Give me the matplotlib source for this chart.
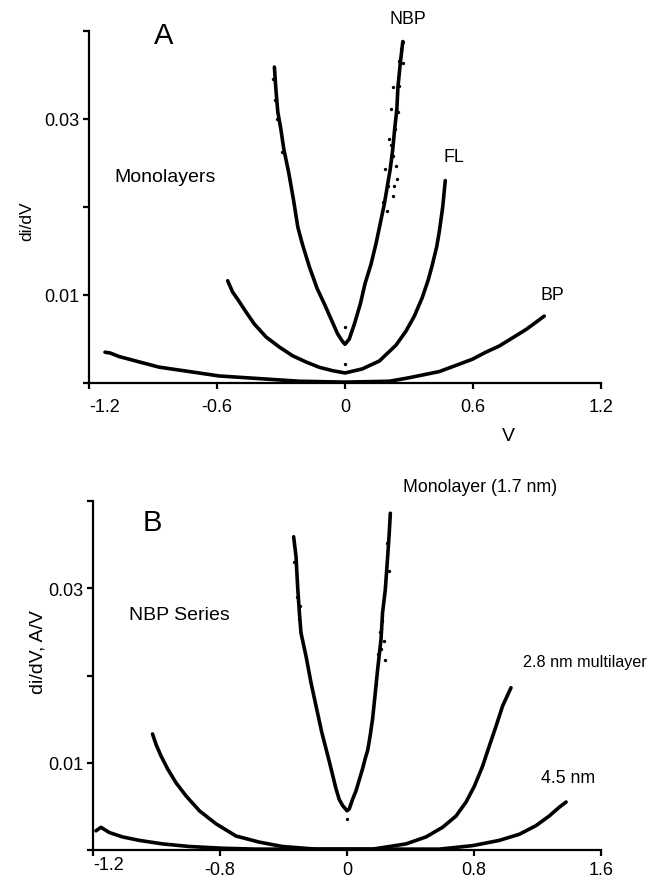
import matplotlib
matplotlib.use("Agg")
import matplotlib.pyplot as plt

plt.rcParams['font.family'] = ['Liberation Sans', 'DejaVu Sans']

# ---------------- Panel A data (V, di/dV) ----------------
nbp_v = [-0.331, -0.324, -0.315, -0.301, -0.287, -0.263, -0.242, -0.221, -0.200, -0.167,
         -0.130, -0.097, -0.066, -0.035, -0.011, 0.0,
         0.020, 0.044, 0.072, 0.094, 0.122, 0.145, 0.165, 0.184, 0.198, 0.212,
         0.224, 0.233, 0.243, 0.248, 0.259, 0.271]
nbp_y = [0.0359, 0.0334, 0.0308, 0.0289, 0.0266, 0.0238, 0.0209, 0.0177, 0.0158, 0.0132,
         0.0107, 0.0090, 0.0073, 0.0056, 0.0047, 0.0044,
         0.0050, 0.0067, 0.0090, 0.0113, 0.0135, 0.0158, 0.0181, 0.0203, 0.0223, 0.0243,
         0.0266, 0.0289, 0.0311, 0.0336, 0.0363, 0.0388]
# scattered points on the noisy parts of NBP
nbp_noise_v = [0.270, 0.263, 0.251, 0.273, 0.226, 0.255, 0.216, 0.247, 0.236, 0.208,
               0.223, 0.189, 0.239, 0.200, 0.231, 0.180, 0.223, 0.242, 0.195, 0.215,
               0.0, 0.0, -0.336, -0.328, -0.318, -0.296]
nbp_noise_y = [0.0387, 0.0380, 0.0366, 0.0364, 0.0336, 0.0338, 0.0311, 0.0308, 0.0289, 0.0277,
               0.0258, 0.0243, 0.0247, 0.0224, 0.0224, 0.0206, 0.0213, 0.0232, 0.0195, 0.0270,
               0.0064, 0.0022, 0.0345, 0.0322, 0.0300, 0.0262]

fl_v = [-0.550, -0.527, -0.504, -0.464, -0.425, -0.370, -0.308, -0.246, -0.183, -0.120, -0.058, 0.0,
        0.081, 0.161, 0.239, 0.286, 0.325, 0.362, 0.390, 0.409, 0.430, 0.442, 0.458, 0.470]
fl_y = [0.01162, 0.01034, 0.00955, 0.00807, 0.00670, 0.00523, 0.00409, 0.00310, 0.00239, 0.00178,
        0.00140, 0.00114, 0.0016, 0.0025, 0.0043, 0.0059, 0.0076, 0.0097, 0.0117, 0.0134,
        0.0155, 0.0172, 0.0200, 0.0230]

bp_v = [-1.125, -1.100, -1.058, -0.965, -0.871, -0.730, -0.590, -0.402, -0.214, 0.0,
        0.208, 0.301, 0.442, 0.520, 0.597, 0.660, 0.723, 0.790, 0.850, 0.934]
bp_y = [0.0035, 0.0034, 0.0030, 0.0024, 0.0018, 0.0013, 0.0008, 0.0005, 0.0002, 0.0001,
        0.0002, 0.0006, 0.0013, 0.0020, 0.0027, 0.0035, 0.0042, 0.0052, 0.0061, 0.0076]

# ---------------- Panel B data ----------------
mono_v = [-0.336, -0.321, -0.311, -0.300, -0.290, -0.258, -0.227, -0.195, -0.159, -0.111,
          -0.069, -0.049, -0.028, 0.0, 0.014, 0.035, 0.057, 0.080, 0.098, 0.115, 0.130,
          0.145, 0.161, 0.177, 0.193, 0.214, 0.224, 0.241, 0.256, 0.266, 0.273]
mono_y = [0.0359, 0.0336, 0.0302, 0.0272, 0.0249, 0.0222, 0.0192, 0.0165, 0.0135, 0.0101,
          0.0070, 0.0058, 0.0051, 0.0045, 0.0047, 0.0058, 0.0068, 0.0082, 0.0093, 0.0105, 0.0114,
          0.0130, 0.0150, 0.0178, 0.0207, 0.0241, 0.0272, 0.0298, 0.0336, 0.0363, 0.0386]
mono_noise_v = [-0.335, -0.318, -0.305, -0.296, 0.205, 0.232, 0.198, 0.240, 0.220, 0.262,
                0.250, 0.212, 0.185, 0.0]
mono_noise_y = [0.0330, 0.0290, 0.0265, 0.0280, 0.0250, 0.0240, 0.0225, 0.0218, 0.0262, 0.0320,
                0.0352, 0.0230, 0.0190, 0.0035]

ml28_v = [-1.225, -1.203, -1.172, -1.130, -1.077, -1.014, -0.930, -0.825, -0.699, -0.552,
          -0.406, -0.195, 0.0, 0.161, 0.372, 0.498, 0.602, 0.687, 0.750, 0.802, 0.854,
          0.896, 0.939, 0.980, 1.033]
ml28_y = [0.0133, 0.0121, 0.0108, 0.0093, 0.0077, 0.0062, 0.0045, 0.0030, 0.0016, 0.0009,
          0.0004, 0.0001, 0.0001, 0.0001, 0.0007, 0.0015, 0.0026, 0.0039, 0.0055, 0.0073, 0.0096,
          0.0119, 0.0142, 0.0165, 0.0186]

ml45_v = [-1.581, -1.550, -1.497, -1.414, -1.308, -1.162, -0.993, -0.784, -0.573, 0.0,
          0.581, 0.791, 0.959, 1.085, 1.191, 1.274, 1.337, 1.380]
ml45_y = [0.0022, 0.0026, 0.0020, 0.0015, 0.0011, 0.0007, 0.0004, 0.0002, 0.0001, 0.0001,
          0.0001, 0.0005, 0.0011, 0.0018, 0.0028, 0.0039, 0.0049, 0.0055]

# ticks
a_xticks = [-1.2, -0.6, 0, 0.6, 1.2]
a_xticklabels = ['-1.2', '-0.6', '0', '0.6', '1.2']
b_xticks = [-1.6, -0.8, 0, 0.8, 1.6]
b_xticklabels = ['-1.2', '-0.8', '0', '0.8', '1.6']
yticks = [0, 0.01, 0.02, 0.03, 0.04]
yticklabels = ['', '0.01', '', '0.03', '']

W, H = 656, 878
fig = plt.figure(figsize=(W / 100, H / 100), dpi=100)


def px(x, y):
    return x / W, 1 - y / H


def style(ax, xlim, xt, xtl, xpad):
    ax.set_xlim(*xlim)
    ax.set_ylim(0, 0.04)
    for s in ('top', 'right'):
        ax.spines[s].set_visible(False)
    for s in ('left', 'bottom'):
        ax.spines[s].set_linewidth(1.6)
    ax.set_xticks(xt)
    ax.set_xticklabels(xtl)
    ax.set_yticks(yticks)
    ax.set_yticklabels(yticklabels)
    ax.tick_params(axis='both', direction='out', length=4, width=1.6,
                   labelsize=13, colors='black')
    ax.tick_params(axis='x', pad=xpad)
    ax.tick_params(axis='y', pad=3)
    ax.patch.set_visible(False)


LW = 2.6
MS = 2.4

# ---- Panel A ----
axA = fig.add_axes([89 / W, 1 - 384 / H, 512 / W, 352 / H])
for v, y in ((nbp_v, nbp_y), (fl_v, fl_y), (bp_v, bp_y)):
    axA.plot(v, y, color='k', lw=LW, solid_capstyle='round', solid_joinstyle='round')
axA.plot(nbp_noise_v, nbp_noise_y, 'ko', ms=MS, mew=0, ls='none')
style(axA, (-1.2, 1.2), a_xticks, a_xticklabels, 7)
axA.get_xticklabels()[0].set_horizontalalignment('left')

# ---- Panel B ----
axB = fig.add_axes([93 / W, 1 - 851 / H, 508 / W, 349 / H])
for v, y in ((mono_v, mono_y), (ml28_v, ml28_y), (ml45_v, ml45_y)):
    axB.plot(v, y, color='k', lw=LW, solid_capstyle='round', solid_joinstyle='round')
axB.plot(mono_noise_v, mono_noise_y, 'ko', ms=MS, mew=0, ls='none')
style(axB, (-1.6, 1.6), b_xticks, b_xticklabels, 4)
lbl = axB.get_xticklabels()[0]
lbl.set_horizontalalignment('left')
lbl.set_y(0.015)

# ---- Text annotations ----
def t(x, y, s, size, **kw):
    fig.text(*px(x, y), s, fontsize=size, ha='center', va='center', **kw)

t(164, 36, 'A', 21)
t(408, 20, 'NBP', 12.8)
t(454, 158, 'FL', 12.8)
t(552, 296, 'BP', 12.8)
t(165, 177, 'Monolayers', 14)
t(27, 221, 'di/dV', 12.5, rotation=90)
t(508, 437, 'V', 14)

t(152, 523, 'B', 21)
t(480, 488, 'Monolayer (1.7 nm)', 12.8)
t(179, 616, 'NBP Series', 14)
t(38, 652, 'di/dV, A/V', 14, rotation=90)
t(585, 662, '2.8 nm multilayer', 11.6)
t(568, 779, '4.5 nm', 12.8)

fig.savefig('out.png', dpi=100)
